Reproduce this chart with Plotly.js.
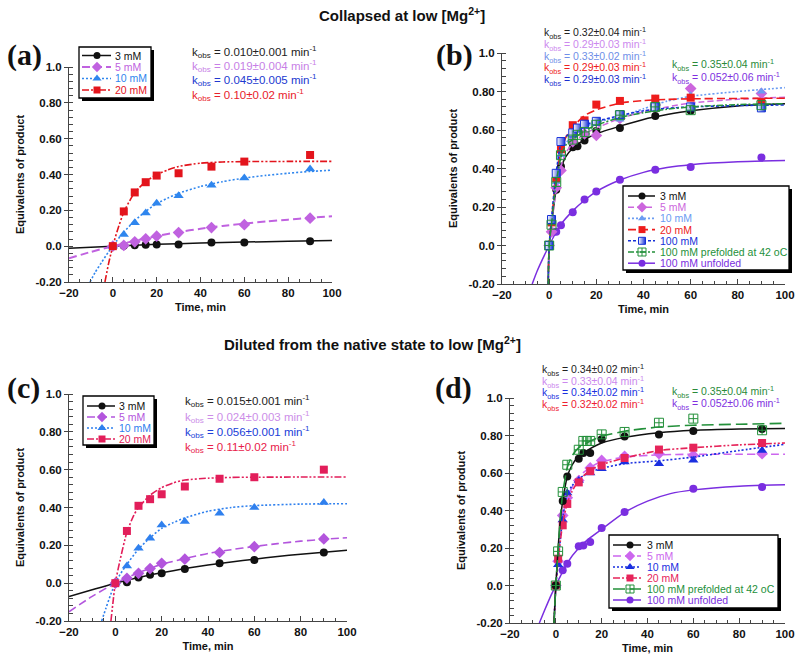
<!DOCTYPE html>
<html><head><meta charset="utf-8">
<script src="https://cdn.plot.ly/plotly-3.0.1.min.js"></script>
<style>html,body{margin:0;padding:0;background:#fff}</style>
</head><body><div id="chart" style="width:800px;height:660px"></div>
<script>
// ---------- tick labels ----------
const xTicks = [-20, 0, 20, 40, 60, 80, 100];
const yTicks = [-0.2, 0, 0.2, 0.4, 0.6, 0.8, 1.0];
const yTickText = ['-0.20', '0.0', '0.20', '0.40', '0.60', '0.80', '1.0'];

// ---------- panel (a): collapsed, low Mg ----------
const tA = [0, 5, 10, 15, 20, 30, 45, 60, 90];
const a3 = [0, 0.003, 0.005, 0.008, 0.009, 0.009, 0.02, 0.02, 0.027];
const a5 = [0, 0.004, 0.024, 0.041, 0.056, 0.076, 0.104, 0.12, 0.156];
const a10 = [0, 0.065, 0.13, 0.185, 0.239, 0.281, 0.34, 0.38, 0.43];
const a20 = [0, 0.194, 0.3, 0.357, 0.394, 0.407, 0.444, 0.472, 0.509];
const fa3T = [-20, 0, 20, 40, 60, 80, 100];
const fa3 = [-0.011, 0, 0.01, 0.017, 0.023, 0.027, 0.031];
const fa5T = [-20, -10, 0, 10, 20, 30, 40, 50, 60, 70, 80, 90, 100];
const fa5 = [-0.068, -0.032, 0, 0.03, 0.056, 0.079, 0.097, 0.113, 0.126, 0.138, 0.148, 0.158, 0.167];
const fa10T = [-10.4, -8, -5, -2, 0, 2, 5, 10, 15, 20, 25, 30, 40, 50, 60, 70, 80, 90, 100];
const fa10 = [-0.2, -0.145, -0.088, -0.032, 0, 0.033, 0.078, 0.142, 0.195, 0.237, 0.268, 0.295, 0.333, 0.36, 0.38, 0.395, 0.407, 0.417, 0.424];
const fa20T = [-3.6, -2, -1, 0, 2, 5, 8, 10, 15, 20, 25, 30, 40, 50, 60, 80, 100];
const fa20 = [-0.2, -0.1, -0.048, 0, 0.085, 0.19, 0.26, 0.3, 0.36, 0.4, 0.425, 0.445, 0.463, 0.47, 0.472, 0.473, 0.473];
const kA = ['0.010±0.001', '0.019±0.004', '0.045±0.005', '0.10±0.02'];
const legA = ['3 mM', '5 mM', '10 mM', '20 mM'];

// ---------- panel (b) ----------
const b3T = [0, 3, 5, 10, 12, 15, 20, 30, 45, 60, 90];
const b3 = [0, 0.29, 0.41, 0.51, 0.515, 0.545, 0.595, 0.61, 0.673, 0.70, 0.73];
const b5T = [0, 1, 3, 5, 10, 15, 20, 30, 45, 60, 90];
const b5 = [0, 0.071, 0.30, 0.39, 0.54, 0.58, 0.572, 0.66, 0.73, 0.815, 0.79];
const b10T = [0, 1, 3, 5, 10, 15, 20, 30, 45, 60, 90];
const b10 = [0, 0.12, 0.33, 0.47, 0.57, 0.62, 0.64, 0.655, 0.763, 0.78, 0.80];
const b20T = [0, 1, 3, 5, 10, 15, 20, 30, 45, 60, 90];
const b20 = [0, 0.12, 0.35, 0.50, 0.625, 0.65, 0.732, 0.751, 0.763, 0.768, 0.745];
const b100T = [0, 1, 3, 5, 10, 12, 15, 20, 30, 45, 60, 90];
const b100 = [0, 0.135, 0.375, 0.54, 0.585, 0.61, 0.63, 0.645, 0.68, 0.72, 0.72, 0.715];
const bPreT = [0, 1, 3, 5, 10, 12, 15, 20, 30, 45, 60, 90];
const bPre = [0, 0.108, 0.33, 0.469, 0.55, 0.575, 0.59, 0.627, 0.677, 0.72, 0.703, 0.729];
const bUnT = [0, 2, 3, 5, 10, 15, 20, 30, 45, 60, 90];
const bUn = [0, 0.071, 0.071, 0.105, 0.173, 0.239, 0.28, 0.342, 0.394, 0.408, 0.457];
const fbFastT = [-0.4, 0, 1, 2, 3, 5, 7, 10, 15, 20, 30, 40, 50, 60, 80, 100];
const fb3 = [-0.2, 0, 0.11, 0.21, 0.29, 0.40, 0.46, 0.505, 0.55, 0.58, 0.62, 0.655, 0.68, 0.70, 0.725, 0.737];
const fb5 = [-0.2, 0, 0.1, 0.2, 0.3, 0.41, 0.48, 0.53, 0.58, 0.61, 0.66, 0.695, 0.72, 0.74, 0.76, 0.77];
const fb10 = [-0.2, 0, 0.12, 0.23, 0.33, 0.46, 0.53, 0.57, 0.615, 0.64, 0.67, 0.71, 0.75, 0.775, 0.80, 0.82];
const fb20 = [-0.2, 0, 0.13, 0.25, 0.36, 0.49, 0.56, 0.615, 0.675, 0.705, 0.74, 0.753, 0.759, 0.762, 0.764, 0.765];
const fb100 = [-0.2, 0, 0.14, 0.27, 0.38, 0.53, 0.565, 0.59, 0.625, 0.645, 0.675, 0.70, 0.713, 0.72, 0.727, 0.73];
const fbPre = [-0.2, 0, 0.11, 0.23, 0.33, 0.46, 0.52, 0.55, 0.595, 0.625, 0.665, 0.69, 0.708, 0.72, 0.732, 0.737];
const fbUnT = [-7.2, -5, -2, 0, 2, 5, 10, 15, 20, 30, 40, 50, 60, 80, 100];
const fbUn = [-0.2, -0.13, -0.05, 0, 0.048, 0.11, 0.18, 0.235, 0.28, 0.34, 0.38, 0.405, 0.42, 0.435, 0.441];
const kB = ['0.32±0.04', '0.29±0.03', '0.33±0.02', '0.29±0.03', '0.29±0.03'];
const kB2 = ['0.35±0.04', '0.052±0.06'];
const legB = ['3 mM', '5 mM', '10 mM', '20 mM', '100 mM', '100 mM prefolded at 42 oC', '100 mM unfolded'];

// ---------- panel (c): diluted from native ----------
const tC = [0, 5, 10, 15, 20, 30, 45, 60, 90];
const c3 = [0, 0.005, 0.03, 0.044, 0.052, 0.075, 0.105, 0.123, 0.162];
const c5 = [0, 0.026, 0.052, 0.077, 0.105, 0.127, 0.162, 0.193, 0.234];
const c10 = [0, 0.091, 0.185, 0.238, 0.308, 0.326, 0.37, 0.40, 0.427];
const c20 = [0, 0.276, 0.409, 0.444, 0.47, 0.511, 0.552, 0.56, 0.60];
const fcSlowT = [-20, -10, 0, 10, 20, 30, 40, 50, 60, 70, 80, 90, 100];
const fc3 = [-0.071, -0.035, 0, 0.03, 0.055, 0.077, 0.096, 0.112, 0.127, 0.141, 0.153, 0.164, 0.174];
const fc5 = [-0.151, -0.07, 0, 0.055, 0.1, 0.13, 0.157, 0.177, 0.194, 0.209, 0.222, 0.232, 0.24];
const fc10T = [-5.9, -4, -2, 0, 2, 5, 10, 15, 20, 25, 30, 40, 50, 60, 80, 100];
const fc10 = [-0.2, -0.13, -0.06, 0, 0.045, 0.1, 0.18, 0.24, 0.29, 0.32, 0.345, 0.38, 0.4, 0.41, 0.418, 0.42];
const fc20T = [-1.9, -1, 0, 2, 5, 8, 10, 15, 20, 25, 30, 40, 50, 60, 80, 100];
const fc20 = [-0.2, -0.1, 0, 0.12, 0.27, 0.36, 0.4, 0.465, 0.505, 0.53, 0.545, 0.555, 0.559, 0.56, 0.561, 0.561];
const kC = ['0.015±0.001', '0.024±0.003', '0.056±0.001', '0.11±0.02'];
const legC = ['3 mM', '5 mM', '10 mM', '20 mM'];

// ---------- panel (d) ----------
const d3T = [0, 3, 5, 10, 12, 15, 20, 30, 45, 60, 90];
const d3 = [0, 0.451, 0.582, 0.676, 0.707, 0.707, 0.78, 0.795, 0.806, 0.824, 0.835];
const d5T = [0, 1, 3, 5, 10, 15, 20, 30, 45, 60, 90];
const d5 = [0, 0.13, 0.374, 0.468, 0.56, 0.627, 0.667, 0.689, 0.703, 0.694, 0.703];
const d10T = [0, 1, 3, 5, 10, 15, 20, 30, 45, 60, 90];
const d10 = [0, 0.111, 0.35, 0.493, 0.56, 0.60, 0.623, 0.659, 0.65, 0.668, 0.72];
const d20T = [0, 1, 3, 5, 10, 15, 20, 30, 45, 60, 90];
const d20 = [0, 0.143, 0.321, 0.435, 0.55, 0.61, 0.64, 0.68, 0.725, 0.735, 0.76];
const dPreT = [0, 1, 3, 5, 10, 12, 13.5, 15, 20, 30, 45, 60, 90];
const dPre = [0, 0.182, 0.499, 0.644, 0.724, 0.771, 0.771, 0.771, 0.806, 0.819, 0.868, 0.89, 0.828];
const dUnT = [0, 3, 5, 10, 12, 15, 20, 30, 60, 90];
const dUn = [0, 0.081, 0.116, 0.209, 0.214, 0.232, 0.307, 0.392, 0.516, 0.525];
const fdFastT = [-0.8, 0, 1, 2, 3, 5, 7, 10, 15, 20, 30, 45, 60, 80, 100];
const fd3 = [-0.2, 0, 0.2, 0.35, 0.45, 0.58, 0.64, 0.69, 0.73, 0.76, 0.79, 0.815, 0.828, 0.835, 0.838];
const fd5 = [-0.2, 0, 0.14, 0.27, 0.37, 0.47, 0.52, 0.58, 0.63, 0.66, 0.685, 0.697, 0.70, 0.70, 0.70];
const fd10 = [-0.2, 0, 0.12, 0.25, 0.36, 0.49, 0.53, 0.57, 0.605, 0.625, 0.65, 0.665, 0.685, 0.72, 0.753];
const fd20 = [-0.2, 0, 0.14, 0.24, 0.33, 0.44, 0.5, 0.56, 0.615, 0.645, 0.68, 0.72, 0.735, 0.75, 0.76];
const fdPre = [-0.2, 0, 0.19, 0.37, 0.49, 0.63, 0.69, 0.735, 0.77, 0.795, 0.823, 0.845, 0.855, 0.86, 0.865];
const fdUnT = [-7.2, -5, -2, 0, 2, 5, 10, 15, 20, 30, 40, 50, 60, 80, 100];
const fdUn = [-0.2, -0.135, -0.05, 0, 0.05, 0.12, 0.2, 0.255, 0.3, 0.39, 0.45, 0.49, 0.51, 0.53, 0.537];
const kD = ['0.34±0.02', '0.33±0.04', '0.34±0.02', '0.32±0.02'];
const kD2 = ['0.35±0.04', '0.052±0.06'];
const legD = ['3 mM', '5 mM', '10 mM', '20 mM', '100 mM prefolded at 42 oC', '100 mM unfolded'];

// ---------- styles ----------
const W = 800, H = 660;
const SANS = 'Arial, "Liberation Sans", Helvetica, sans-serif';
const SERIF = '"Times New Roman", "Liberation Serif", Times, serif';
const DDOT = '7px,2px,2px,2px,2px,2px';
const BLACK = {color: '#111111', symbol: 'circle', size: 8, dash: 'solid', width: 1.5};
const styA = [BLACK,
  {color: '#c062e0', symbol: 'diamond', size: 9, dash: '8px,4px', width: 2},
  {color: '#2f86ee', symbol: 'triangle-up', size: 9, dash: '2px,2px', width: 1.6},
  {color: '#e3141c', symbol: 'square', size: 8, dash: DDOT, width: 1.6}];
const kColA = ['#222222', '#c77fe6', '#2038d0', '#e8202a'];
const styB = [BLACK,
  {color: '#cc66dd', symbol: 'diamond', size: 9, dash: '6px,3px', width: 1.5},
  {color: '#6b9cf2', symbol: 'triangle-up', size: 8, dash: '2px,2px', width: 1.6},
  {color: '#ee1c1c', symbol: 'square', size: 8, dash: '8px,4px', width: 1.6},
  {color: '#1530d8', symbol: 'square', size: 8, dash: '3px,2px', width: 1.6, half: true},
  {color: '#23903a', symbol: 'square-cross-open', size: 9, dash: '6px,2px,2px,2px', width: 1.5},
  {color: '#7a2ee0', symbol: 'circle', size: 8, dash: 'solid', width: 1.5}];
const kColB = ['#222222', '#cc88ee', '#6f8fe8', '#ee2020', '#1a2fd0'];
const kColB2 = ['#2a8a3a', '#8030e0'];
const styC = [BLACK,
  {color: '#b355dd', symbol: 'diamond', size: 9, dash: '8px,4px', width: 1.6},
  {color: '#2f80ee', symbol: 'triangle-up', size: 9, dash: '2px,2px', width: 1.6},
  {color: '#e21e5a', symbol: 'square', size: 8, dash: DDOT, width: 1.6}];
const kColC = ['#222222', '#cc8ee8', '#2040d8', '#e8204a'];
const styD = [BLACK,
  {color: '#cc66ee', symbol: 'diamond', size: 9, dash: '8px,4px', width: 1.6},
  {color: '#1a2fe0', symbol: 'triangle-up', size: 9, dash: '2px,2px', width: 1.6},
  {color: '#e6245a', symbol: 'square', size: 8, dash: DDOT, width: 1.6},
  {color: '#23903a', symbol: 'square-cross-open', size: 9, dash: '12px,5px', width: 1.6},
  {color: '#7a2ee0', symbol: 'circle', size: 8, dash: 'solid', width: 1.5}];
const kColD = ['#222222', '#cc88ee', '#1a30e0', '#ee2030'];

function px(x) { return x / W; }
function py(y) { return 1 - y / H; }

function markerOf(st, size) {
  const m = {color: st.color, symbol: st.symbol, size: size || st.size};
  if (st.symbol.indexOf('open') >= 0) m.line = {color: st.color, width: 1};
  if (st.half) { m.color = '#ffffff'; m.gradient = {type: 'horizontal', color: st.color}; m.line = {color: st.color, width: 1}; }
  return m;
}

const traces = [];
function addSeries(xa, ya, pt, pv, ft, fv, st) {
  traces.push({type: 'scatter', mode: 'lines', x: ft, y: fv, xaxis: xa, yaxis: ya,
    line: {color: st.color, dash: st.dash, width: st.width, shape: 'spline', smoothing: 0.6},
    hoverinfo: 'skip', showlegend: false});
  traces.push({type: 'scatter', mode: 'markers', x: pt, y: pv, xaxis: xa, yaxis: ya,
    marker: markerOf(st), hoverinfo: 'skip', showlegend: false, cliponaxis: false});
}

// (a)
addSeries('x', 'y', tA, a3, fa3T, fa3, styA[0]);
addSeries('x', 'y', tA, a5, fa5T, fa5, styA[1]);
addSeries('x', 'y', tA, a10, fa10T, fa10, styA[2]);
addSeries('x', 'y', tA, a20, fa20T, fa20, styA[3]);
// (b)
addSeries('x2', 'y2', bUnT, bUn, fbUnT, fbUn, styB[6]);
addSeries('x2', 'y2', b3T, b3, fbFastT, fb3, styB[0]);
addSeries('x2', 'y2', b5T, b5, fbFastT, fb5, styB[1]);
addSeries('x2', 'y2', b10T, b10, fbFastT, fb10, styB[2]);
addSeries('x2', 'y2', b20T, b20, fbFastT, fb20, styB[3]);
addSeries('x2', 'y2', b100T, b100, fbFastT, fb100, styB[4]);
addSeries('x2', 'y2', bPreT, bPre, fbFastT, fbPre, styB[5]);
// (c)
addSeries('x3', 'y3', tC, c3, fcSlowT, fc3, styC[0]);
addSeries('x3', 'y3', tC, c5, fcSlowT, fc5, styC[1]);
addSeries('x3', 'y3', tC, c10, fc10T, fc10, styC[2]);
addSeries('x3', 'y3', tC, c20, fc20T, fc20, styC[3]);
// (d)
addSeries('x4', 'y4', dUnT, dUn, fdUnT, fdUn, styD[5]);
addSeries('x4', 'y4', d5T, d5, fdFastT, fd5, styD[1]);
addSeries('x4', 'y4', d10T, d10, fdFastT, fd10, styD[2]);
addSeries('x4', 'y4', d20T, d20, fdFastT, fd20, styD[3]);
addSeries('x4', 'y4', d3T, d3, fdFastT, fd3, styD[0]);
addSeries('x4', 'y4', dPreT, dPre, fdFastT, fdPre, styD[4]);

// ---------- axes ----------
const tickFont = {family: SANS, size: 11.5, color: '#111', weight: 'bold'};
const titleFont = {family: SANS, size: 11, color: '#111', weight: 'bold'};
function xAxis(d0, d1, anchor) {
  return {domain: [d0 / W, d1 / W], anchor: anchor, range: [-20, 100], tickmode: 'array', tickvals: xTicks,
    ticks: 'inside', ticklen: 5, tickwidth: 1, tickcolor: '#444', showline: true, linecolor: '#444', linewidth: 1,
    zeroline: false, showgrid: false, tickfont: tickFont,
    minor: {tickmode: 'linear', tick0: -20, dtick: 5, ticks: 'inside', ticklen: 3, tickcolor: '#444', showgrid: false},
    title: {text: 'Time, min', font: titleFont, standoff: 5}, fixedrange: true};
}
function yAxis(d0, d1, anchor) {
  return {domain: [1 - d1 / H, 1 - d0 / H], anchor: anchor, range: [-0.2, 1.0], tickmode: 'array', tickvals: yTicks,
    ticktext: yTickText, ticks: 'outside', ticklen: 4, tickwidth: 1, tickcolor: '#444', showline: true,
    linecolor: '#444', linewidth: 1, zeroline: false, showgrid: false, tickfont: tickFont,
    minor: {tickmode: 'linear', tick0: -0.2, dtick: 0.04, ticks: 'inside', ticklen: 4, tickcolor: '#444', showgrid: false},
    title: {text: 'Equivalents of product', font: titleFont, standoff: 8}, fixedrange: true};
}

// ---------- legends (drawn boxes) ----------
const shapes = [];
const annotations = [];
function legendBox(x0, y0, x1, y1, names, styles, rowStart, rowH, lineX0, lineX1, mX, textX) {
  shapes.push({type: 'rect', xref: 'paper', yref: 'paper', layer: 'below', x0: px(x0 + 3), x1: px(x1 + 3), y0: py(y1 + 3), y1: py(y0 + 3),
    fillcolor: '#000', line: {width: 0}});
  shapes.push({type: 'rect', xref: 'paper', yref: 'paper', layer: 'below', x0: px(x0), x1: px(x1), y0: py(y1), y1: py(y0),
    fillcolor: '#fff', line: {color: '#000', width: 1.3}});
  names.forEach(function (n, i) {
    const yy = y0 + rowStart + i * rowH;
    const st = styles[i];
    traces.push({type: 'scatter', mode: 'lines', x: [x0 + lineX0, x0 + lineX1], y: [yy, yy], xaxis: 'x5', yaxis: 'y5',
      line: {color: st.color, dash: st.dash, width: st.width}, hoverinfo: 'skip', showlegend: false, cliponaxis: false});
    traces.push({type: 'scatter', mode: 'markers', x: [x0 + mX], y: [yy], xaxis: 'x5', yaxis: 'y5',
      marker: markerOf(st, st.size - 1), hoverinfo: 'skip', showlegend: false, cliponaxis: false});
    annotations.push({xref: 'paper', yref: 'paper', x: px(x0 + textX), y: py(yy), xanchor: 'left', yanchor: 'middle',
      text: n, showarrow: false, font: {family: SANS, size: 10.5, color: st.color === '#111111' ? '#111' : st.color}});
  });
}
legendBox(79, 47, 151, 98, legA, styA, 8.5, 11.5, 3, 32, 18, 34);
legendBox(83, 396, 154, 445, legC, styC, 10, 11, 4, 32, 19, 34);
legendBox(623, 186, 789, 270, legB, styB, 10, 11.2, 5, 32, 19, 35);
legendBox(609, 535, 778, 608, legD, styD, 10, 11, 4, 32, 21, 36);

// ---------- k_obs labels ----------
function kLabels(x, ys, vals, cols, size) {
  vals.forEach(function (v, i) {
    annotations.push({xref: 'paper', yref: 'paper', x: px(x), y: py(ys[i]), xanchor: 'left', yanchor: 'middle', showarrow: false,
      text: 'k<sub>obs</sub> = ' + v + ' min<sup>-1</sup>', font: {family: SANS, size: size, color: cols[i]}});
  });
}
kLabels(190, [52, 66, 80, 95], kA, kColA, 11.5);
kLabels(542, [33, 45, 57, 68, 80], kB, kColB, 10.5);
kLabels(670, [65, 78], kB2, kColB2, 10.5);
kLabels(183, [401, 417, 432, 447], kC, kColC, 11.5);
kLabels(540, [370, 382, 393, 405], kD, kColD, 10.5);
kLabels(670, [392, 404], kD2, kColB2, 10.5);

// ---------- titles & panel letters ----------
annotations.push({xref: 'paper', yref: 'paper', x: px(402), y: py(15), xanchor: 'center', yanchor: 'middle', showarrow: false,
  text: 'Collapsed at low [Mg<sup>2+</sup>]', font: {family: SANS, size: 15, color: '#111', weight: 'bold'}});
annotations.push({xref: 'paper', yref: 'paper', x: px(372), y: py(343), xanchor: 'center', yanchor: 'middle', showarrow: false,
  text: 'Diluted from the native state to low [Mg<sup>2+</sup>]', font: {family: SANS, size: 15, color: '#111', weight: 'bold'}});
[['(a)', 24, 55], ['(b)', 454, 55], ['(c)', 23, 388], ['(d)', 453, 388]].forEach(function (p) {
  annotations.push({xref: 'paper', yref: 'paper', x: px(p[1]), y: py(p[2]), xanchor: 'center', yanchor: 'middle', showarrow: false,
    text: p[0], font: {family: SERIF, size: 30, color: '#111', weight: 'bold'}});
});

const layout = {
  width: W, height: H, margin: {l: 0, r: 0, t: 0, b: 0}, paper_bgcolor: '#fff', plot_bgcolor: 'rgba(0,0,0,0)',
  showlegend: false,
  xaxis: xAxis(69, 332, 'y'), yaxis: yAxis(67, 282, 'x'),
  xaxis2: xAxis(502, 785, 'y2'), yaxis2: yAxis(53, 284, 'x2'),
  xaxis3: xAxis(69, 347, 'y3'), yaxis3: yAxis(394, 621, 'x3'),
  xaxis4: xAxis(510, 785, 'y4'), yaxis4: yAxis(398, 623, 'x4'),
  xaxis5: {domain: [0, 1], range: [0, W], visible: false, anchor: 'y5', fixedrange: true},
  yaxis5: {domain: [0, 1], range: [H, 0], visible: false, anchor: 'x5', fixedrange: true},
  shapes: shapes, annotations: annotations
};
Plotly.newPlot('chart', traces, layout, {staticPlot: true, displayModeBar: false});
</script></body></html>
